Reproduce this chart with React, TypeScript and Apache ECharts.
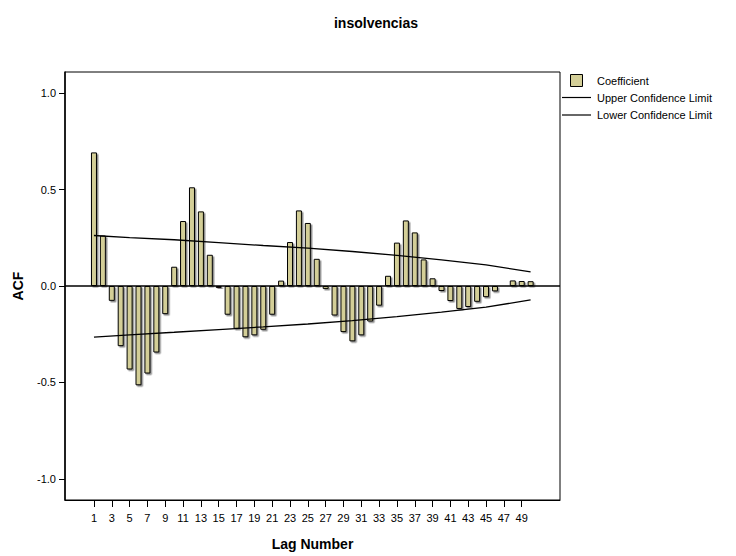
import React, { useEffect, useRef } from "react";
import * as echarts from "echarts";

const lags: number[] = Array.from({ length: 50 }, (_, i) => i + 1);
const acf: number[] = [
  0.693, 0.262, -0.077, -0.312, -0.433, -0.515, -0.454, -0.345, -0.146, 0.1,
  0.337, 0.512, 0.387, 0.162, -0.01, -0.149, -0.222, -0.266, -0.256, -0.227,
  -0.149, 0.028, 0.228, 0.392, 0.327, 0.141, -0.015, -0.153, -0.239, -0.287,
  -0.256, -0.184, -0.102, 0.053, 0.225, 0.34, 0.278, 0.138, 0.04, -0.026,
  -0.078, -0.119, -0.109, -0.082, -0.058, -0.028, -0.002, 0.029, 0.026, 0.025,
];
const limitLags: number[] = [1, 5, 10, 15, 20, 25, 30, 35, 40, 45, 50];
const upperLimit: number[] = [0.262, 0.251, 0.24, 0.225, 0.21, 0.196, 0.179, 0.159, 0.136, 0.11, 0.073];
const lowerLimit: number[] = [-0.265, -0.253, -0.24, -0.226, -0.212, -0.197, -0.18, -0.159, -0.136, -0.11, -0.072];
const xTickLabels: number[] = lags.filter((l) => l % 2 === 1);
const yTickValues: number[] = [-1, -0.5, 0, 0.5, 1];

const FONT = '"Liberation Sans", Arial, sans-serif';
const BAR_COLOR = "#d3ce97";

export default function App() {
  const ref = useRef<HTMLDivElement>(null);
  useEffect(() => {
    if (!ref.current) return;
    const chart = echarts.init(ref.current, null, { renderer: "svg" });
    chart.setOption({
      animation: false,
      backgroundColor: "#ffffff",
      title: {
        text: "insolvencias",
        left: 371,
        top: 11,
        textAlign: "center",
        textStyle: { fontFamily: FONT, fontSize: 14, fontWeight: "bold", color: "#000" },
      },
      grid: {
        left: 65,
        top: 72,
        width: 495,
        height: 431,
        show: true,
        borderColor: "#000",
        borderWidth: 1,
        backgroundColor: "transparent",
      },
      xAxis: {
        type: "value",
        min: -2.25,
        max: 53.3,
        splitLine: { show: false },
        axisLine: { show: true, onZero: false, lineStyle: { color: "#000", width: 1 } },
        axisTick: { show: true, length: 7, customValues: xTickLabels, lineStyle: { color: "#000" } },
        axisLabel: {
          customValues: xTickLabels,
          fontFamily: FONT,
          fontSize: 11,
          color: "#000",
          margin: 12,
        },
        name: "Lag Number",
        nameLocation: "middle",
        nameGap: 37,
        nameTextStyle: { fontFamily: FONT, fontSize: 14, fontWeight: "bold", color: "#000" },
      },
      yAxis: {
        type: "value",
        min: -1.11,
        max: 1.11,
        splitLine: { show: false },
        axisLine: { show: true, onZero: false, lineStyle: { color: "#000", width: 1.5 } },
        axisTick: { show: true, length: 6, customValues: yTickValues, lineStyle: { color: "#000" } },
        axisLabel: {
          customValues: yTickValues,
          formatter: (v: number) => v.toFixed(1),
          fontFamily: FONT,
          fontSize: 11,
          color: "#000",
          margin: 9,
        },
        name: "ACF",
        nameLocation: "middle",
        nameGap: 40,
        nameRotate: 90,
        nameTextStyle: { fontFamily: FONT, fontSize: 14, fontWeight: "bold", color: "#000" },
      },
      series: [
        {
          name: "Coefficient",
          type: "bar",
          barWidth: 6,
          data: lags.map((l, i) => [l, acf[i]]),
          itemStyle: {
            color: BAR_COLOR,
            borderColor: "#000",
            borderWidth: 1,
            shadowColor: "rgba(0,0,0,0.45)",
            shadowOffsetX: 1.5,
            shadowOffsetY: 1.5,
            shadowBlur: 1,
          },
          markLine: {
            silent: true,
            symbol: "none",
            label: { show: false },
            lineStyle: { color: "#000", width: 1.5, type: "solid" },
            data: [{ yAxis: 0 }],
          },
          z: 2,
        },
        {
          name: "Upper Confidence Limit",
          type: "line",
          data: limitLags.map((l, i) => [l, upperLimit[i]]),
          symbol: "none",
          lineStyle: { color: "#000", width: 1.3 },
          z: 3,
        },
        {
          name: "Lower Confidence Limit",
          type: "line",
          data: limitLags.map((l, i) => [l, lowerLimit[i]]),
          symbol: "none",
          lineStyle: { color: "#000", width: 1.3 },
          z: 3,
        },
      ],
      graphic: [
        {
          type: "rect",
          shape: { x: 570.5, y: 74.5, width: 12, height: 12 },
          style: { fill: BAR_COLOR, stroke: "#000", lineWidth: 1 },
        },
        {
          type: "text",
          x: 597,
          y: 81,
          style: { text: "Coefficient", font: `11px ${FONT}`, fill: "#000", verticalAlign: "middle" },
        },
        {
          type: "line",
          shape: { x1: 562, y1: 97.5, x2: 591, y2: 97.5 },
          style: { stroke: "#000", lineWidth: 1.2 },
        },
        {
          type: "text",
          x: 597,
          y: 97.5,
          style: { text: "Upper Confidence Limit", font: `11px ${FONT}`, fill: "#000", verticalAlign: "middle" },
        },
        {
          type: "line",
          shape: { x1: 562, y1: 115, x2: 591, y2: 115 },
          style: { stroke: "#000", lineWidth: 1.2 },
        },
        {
          type: "text",
          x: 597,
          y: 114.5,
          style: { text: "Lower Confidence Limit", font: `11px ${FONT}`, fill: "#000", verticalAlign: "middle" },
        },
      ],
    });
    return () => chart.dispose();
  }, []);
  return (
    <div
      ref={ref}
      style={{ position: "fixed", left: 0, top: 0, width: 736, height: 556, background: "#fff" }}
    />
  );
}
